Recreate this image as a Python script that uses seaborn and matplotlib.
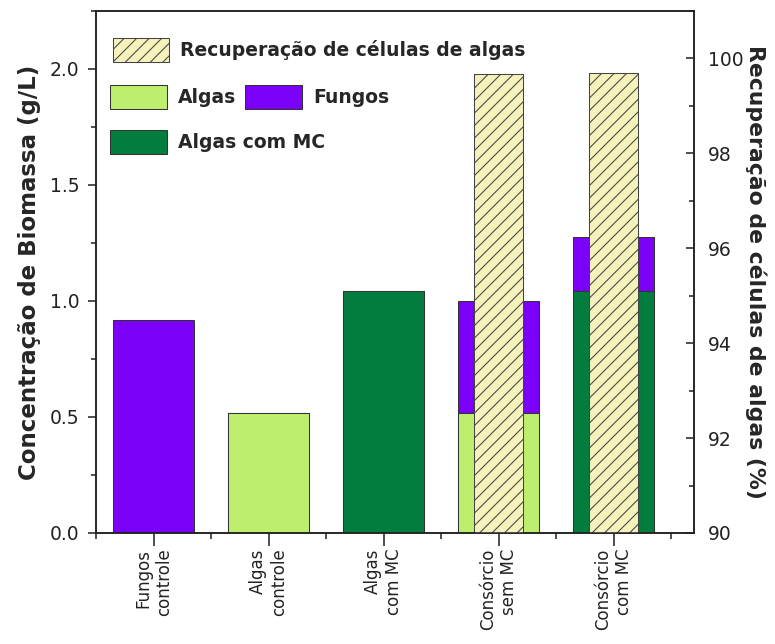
import numpy as np
import pandas as pd
import matplotlib
matplotlib.use('Agg')
import matplotlib.pyplot as plt
from matplotlib.patches import Patch
from matplotlib.ticker import MultipleLocator, FixedLocator
import seaborn as sns

# valores
categorias = ['Fungos\ncontrole', 'Algas\ncontrole', 'Algas\ncom MC', 'Consórcio\nsem MC', 'Consórcio\ncom MC']
algas = [0.0, 0.517, 0.0, 0.517, 0.0]
algas_mc = [0.0, 0.0, 1.042, 0.0, 1.042]
fungos = [0.917, 0.0, 0.0, 0.483, 0.232]
recup_cat = ['Consórcio\nsem MC', 'Consórcio\ncom MC']
recuperacao = [99.68, 99.70]

roxo = '#7B00F7'
verde_claro = '#BEEE6E'
verde_escuro = '#037D3D'
amarelo = '#F6F2BC'
borda = '#333333'

df = pd.DataFrame({'cat': categorias, 'algas': algas, 'algas_mc': algas_mc, 'fungos': fungos})
df['total'] = df['algas'] + df['algas_mc'] + df['fungos']
df['alga_total'] = df['algas'] + df['algas_mc']
df['tipo'] = np.where(df['algas'] > 0, 'Algas', np.where(df['algas_mc'] > 0, 'Algas com MC', 'Fungos'))

sns.set_style('ticks')
plt.rcParams['font.family'] = ['DejaVu Sans']
plt.rcParams['hatch.linewidth'] = 1.0

fig = plt.figure(figsize=(775 / 75, 644 / 75), dpi=75)
ax = fig.add_axes([0.1239, 0.1724, 0.7716, 0.8106])

# barras empilhadas: fungos (total) por baixo, algas por cima
sns.barplot(data=df, x='cat', y='total', order=categorias, color=roxo, saturation=1,
            width=0.7, edgecolor=borda, linewidth=1, errorbar=None, ax=ax)
sns.barplot(data=df, x='cat', y='alga_total', order=categorias, hue='tipo',
            palette={'Algas': verde_claro, 'Algas com MC': verde_escuro, 'Fungos': roxo},
            dodge=False, saturation=1, width=0.7, edgecolor=borda, linewidth=1,
            errorbar=None, legend=False, ax=ax)

ax2 = ax.twinx()
sns.barplot(x=recup_cat, y=recuperacao, order=categorias, color=amarelo, saturation=1,
            width=0.42, edgecolor='#444444', linewidth=1, hatch='//', errorbar=None, ax=ax2)

ax.set_xlim(-0.5, 4.70)
ax.set_ylim(0, 2.25)
ax2.set_ylim(90, 101)

ax.yaxis.set_major_locator(MultipleLocator(0.5))
ax.yaxis.set_minor_locator(MultipleLocator(0.25))
ax.yaxis.set_major_formatter(matplotlib.ticker.FormatStrFormatter('%.1f'))
ax2.yaxis.set_major_locator(MultipleLocator(2))
ax2.yaxis.set_minor_locator(MultipleLocator(1))
ax.xaxis.set_minor_locator(FixedLocator(np.arange(-0.5, 4.6, 1.0)))

for a in (ax, ax2):
    for s in a.spines.values():
        s.set_visible(True)
        s.set_linewidth(1.5)
        s.set_color('#222222')

ax.tick_params(axis='y', which='major', length=8, width=1.5, labelsize=18, colors='#222222',
               direction='out', pad=8)
ax.tick_params(axis='y', which='minor', length=5, width=1.5, colors='#222222', direction='out')
ax.tick_params(axis='x', which='major', length=12, width=1.5, labelsize=16, colors='#222222',
               direction='out', pad=3)
ax.tick_params(axis='x', which='minor', length=6, width=1.5, colors='#222222', direction='out')
ax2.tick_params(axis='y', which='major', length=8, width=1.5, labelsize=18, colors='#222222',
                direction='in', pad=13)
ax2.tick_params(axis='y', which='minor', length=5, width=1.5, colors='#222222', direction='in')

for lab in ax.get_xticklabels():
    lab.set_rotation(90)
    lab.set_va('top')
    lab.set_ha('center')
    lab.set_multialignment('right')

ax.set_xlabel('')
ax2.set_xlabel('')
ax.set_ylabel('Concentração de Biomassa (g/L)', fontsize=22, fontweight='bold', labelpad=8)
ax2.set_ylabel('Recuperação de células de algas (%)', fontsize=21, fontweight='bold',
               rotation=270, labelpad=22)

# legenda em tres linhas
kw = dict(frameon=False, prop={'weight': 'bold', 'size': 18}, handlelength=3.0,
          handleheight=1.55, handletextpad=0.6, borderpad=0, borderaxespad=0,
          loc='center left', columnspacing=0.5)
h1 = [Patch(facecolor=amarelo, edgecolor='#444444', hatch='//', label='Recuperação de células de algas')]
h2 = [Patch(facecolor=verde_claro, edgecolor=borda, label='Algas'),
      Patch(facecolor=roxo, edgecolor=borda, label='Fungos')]
h3 = [Patch(facecolor=verde_escuro, edgecolor=borda, label='Algas com MC')]
leg1 = ax2.legend(handles=h1, bbox_to_anchor=(0.028, 0.925), **kw)
ax2.add_artist(leg1)
leg2 = ax2.legend(handles=h2, bbox_to_anchor=(0.024, 0.835), ncol=2, **kw)
ax2.add_artist(leg2)
ax2.legend(handles=h3, bbox_to_anchor=(0.024, 0.749), **kw)

fig.savefig('out.png', dpi=75)
